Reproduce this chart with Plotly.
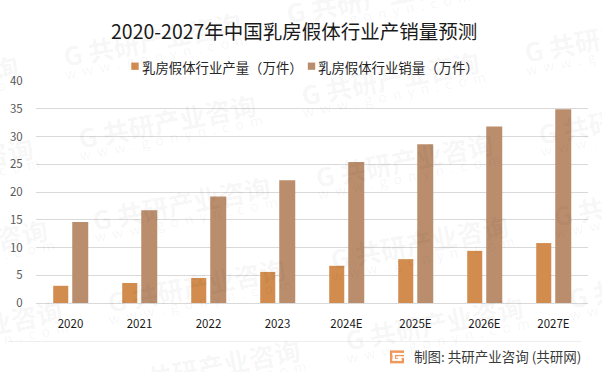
import plotly.graph_objects as go

W, H = 602, 372
categories = ["2020", "2021", "2022", "2023", "2024E", "2025E", "2026E", "2027E"]
output_values = [3.1, 3.6, 4.5, 5.6, 6.7, 7.9, 9.4, 10.8]
sales_values = [14.6, 16.7, 19.2, 22.1, 25.4, 28.6, 31.8, 34.9]
output_name = "乳房假体行业产量（万件）"
sales_name = "乳房假体行业销量（万件）"
title_text = "2020-2027年中国乳房假体行业产销量预测"
source_text = "制图: 共研产业咨询 (共研网)"
y_ticks = [0, 5, 10, 15, 20, 25, 30, 35, 40]
wm_brand = "共研产业咨询"
wm_url = "w w w . g o n y n . c o m"

ORANGE = "#D18C4E"
TAN = "#BA8E6D"
FONT = "Noto Sans CJK SC"

L, R, T, B = 36, 14, 80.5, 69


def px(x):
    return (x - L) / (W - L - R)


def py(y):
    return 1 - (y - T) / (H - T - B)


def note(text, x, y, size, color, xanchor="center", angle=0):
    return dict(text=text, x=px(x), y=py(y), xref="paper", yref="paper", showarrow=False,
                xanchor=xanchor, yanchor="middle", textangle=angle,
                font=dict(family=FONT, size=size, color=color))


fig = go.Figure()
fig.add_bar(x=categories, y=output_values, name=output_name, marker_color=ORANGE, marker_line_width=0, width=0.218)
fig.add_bar(x=categories, y=sales_values, name=sales_name, marker_color=TAN, marker_line_width=0, width=0.232)

annotations = []
shapes = []

# watermark: repeated tilted brand text and url
url_spaced = wm_url.replace(" ", "\u00a0\u00a0")
for col in range(-1, 4):
    for row in range(-1, 4):
        cx = 167 + 223 * (col - 1) + 14.7 * row
        cy = 120 - 43 * (col - 1) + 82 * row
        if cx < -90 or cx > W + 80 or cy < -25 or cy > H + 25:
            continue
        annotations.append(note("<b>G " + wm_brand + "</b>", cx, cy, 26, "rgba(0,0,0,0.05)", angle=-11))
        annotations.append(note(url_spaced, cx + 4, cy + 17, 14, "rgba(0,0,0,0.05)", angle=-11))

annotations.append(note(title_text, 294, 30, 19.5, "#1a1a1a"))

# legend
for sw_x, txt_x, col, name in [(131.3, 140, ORANGE, output_name), (307.8, 316, TAN, sales_name)]:
    shapes.append(dict(type="rect", xref="paper", yref="paper", x0=px(sw_x), x1=px(sw_x + 7.4),
                       y0=py(62), y1=py(69.3), fillcolor=col, line_width=0))
    annotations.append(note(name, txt_x, 66, 13.4, "#262626", xanchor="left"))

# footer rule and source
shapes.append(dict(type="line", xref="paper", yref="paper", x0=px(8), x1=px(581), y0=py(341.5), y1=py(341.5),
                   line=dict(color="#EEEEEE", width=1)))
annotations.append(note(source_text, 583, 356, 13.5, "#3a3a3a", xanchor="right"))

# logo
shapes.append(dict(type="rect", xref="paper", yref="paper", x0=px(390), x1=px(404), y0=py(350.5), y1=py(363.5),
                   fillcolor="#F0975A", line_width=0))
for x0, x1, y0, y1 in [(392.5, 404, 353, 355), (392.5, 395, 353, 361), (392.5, 401.5, 359, 361), (398, 401.5, 356.5, 361), (396, 404, 356.5, 358)]:
    shapes.append(dict(type="rect", xref="paper", yref="paper", x0=px(x0), x1=px(x1), y0=py(y0), y1=py(y1),
                       fillcolor="#FFFFFF", line_width=0))

fig.update_layout(
    width=W, height=H, autosize=False,
    margin=dict(l=L, r=R, t=T, b=B, pad=0, autoexpand=False),
    paper_bgcolor="white", plot_bgcolor="rgba(0,0,0,0)",
    barmode="group", bargap=0.435, bargroupgap=0.205,
    showlegend=False,
    annotations=annotations, shapes=shapes,
    font=dict(family=FONT),
)
fig.update_xaxes(
    type="category", categoryorder="array", categoryarray=categories, automargin=False,
    showgrid=False, showline=True, linecolor="#D9D9D9", linewidth=1, zeroline=False,
    ticks="outside", ticklen=10, tickcolor="rgba(0,0,0,0)",
    tickfont=dict(family=FONT, size=11.5, color="#1a1a1a"),
)
fig.update_yaxes(
    range=[0, 40], tickvals=y_ticks, automargin=False,
    showgrid=True, gridcolor="#D9D9D9", gridwidth=1, zeroline=False, showline=False,
    ticks="outside", ticklen=10, tickcolor="rgba(0,0,0,0)",
    tickfont=dict(family=FONT, size=11.5, color="#595959"),
)
fig.write_html("out.html", config=dict(displayModeBar=False),
               post_script="document.body.style.margin='0';document.documentElement.style.overflow='hidden';")
